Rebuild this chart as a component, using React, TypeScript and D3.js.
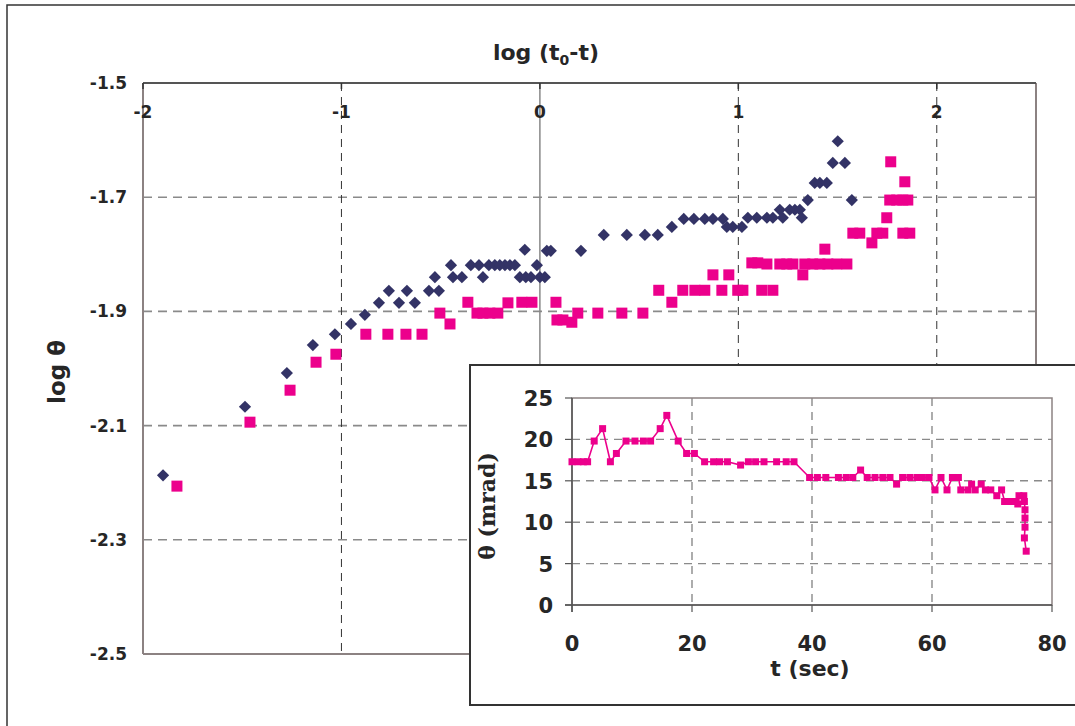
import React from "react";
import * as d3 from "d3";

// Main chart: log(t0 - t) vs log(theta)
const blueX = [-1.899, -1.486, -1.275, -1.144, -1.033, -0.952, -0.882, -0.811, -0.761, -0.71, -0.67, -0.63, -0.559, -0.529, -0.509, -0.448, -0.438, -0.393, -0.348, -0.307, -0.287, -0.257, -0.227, -0.202, -0.176, -0.151, -0.126, -0.101, -0.076, -0.071, -0.045, -0.015, 0.0, 0.025, 0.035, 0.055, 0.207, 0.322, 0.438, 0.529, 0.594, 0.665, 0.725, 0.776, 0.831, 0.872, 0.922, 0.942, 0.972, 1.018, 1.048, 1.093, 1.144, 1.174, 1.209, 1.224, 1.259, 1.285, 1.31, 1.32, 1.35, 1.385, 1.411, 1.446, 1.476, 1.501, 1.537, 1.572];
const blueY = [-2.187, -2.067, -2.008, -1.959, -1.94, -1.922, -1.906, -1.885, -1.864, -1.885, -1.864, -1.885, -1.864, -1.84, -1.864, -1.819, -1.84, -1.84, -1.819, -1.819, -1.84, -1.819, -1.819, -1.819, -1.819, -1.819, -1.819, -1.84, -1.792, -1.84, -1.84, -1.819, -1.84, -1.84, -1.794, -1.794, -1.794, -1.766, -1.766, -1.766, -1.766, -1.752, -1.738, -1.738, -1.738, -1.738, -1.738, -1.752, -1.752, -1.752, -1.736, -1.736, -1.736, -1.736, -1.722, -1.736, -1.722, -1.722, -1.722, -1.736, -1.705, -1.675, -1.675, -1.675, -1.64, -1.602, -1.64, -1.705];

const pinkX = [-1.829, -1.461, -1.259, -1.128, -1.028, -0.877, -0.766, -0.675, -0.594, -0.504, -0.453, -0.363, -0.317, -0.287, -0.252, -0.212, -0.161, -0.091, -0.04, 0.081, 0.086, 0.116, 0.161, 0.191, 0.292, 0.413, 0.519, 0.599, 0.665, 0.72, 0.781, 0.831, 0.872, 0.917, 0.952, 0.997, 1.023, 1.068, 1.098, 1.118, 1.144, 1.174, 1.209, 1.244, 1.275, 1.325, 1.335, 1.375, 1.411, 1.436, 1.451, 1.496, 1.547, 1.577, 1.612, 1.673, 1.698, 1.728, 1.748, 1.768, 1.763, 1.798, 1.829, 1.839, 1.854, 1.829, 1.864];
const pinkY = [-2.206, -2.094, -2.038, -1.989, -1.975, -1.94, -1.94, -1.94, -1.94, -1.903, -1.922, -1.884, -1.903, -1.903, -1.903, -1.903, -1.885, -1.884, -1.884, -1.884, -1.915, -1.915, -1.919, -1.903, -1.903, -1.903, -1.903, -1.863, -1.884, -1.863, -1.863, -1.863, -1.836, -1.863, -1.836, -1.863, -1.863, -1.815, -1.815, -1.863, -1.817, -1.863, -1.817, -1.817, -1.817, -1.836, -1.817, -1.817, -1.817, -1.791, -1.817, -1.817, -1.817, -1.763, -1.763, -1.78, -1.763, -1.763, -1.736, -1.638, -1.705, -1.705, -1.705, -1.673, -1.705, -1.763, -1.763];

const mainXTicks = [-2, -1, 0, 1, 2];
const mainYTicks = [-1.5, -1.7, -1.9, -2.1, -2.3, -2.5];

// Inset: t (sec) vs theta (mrad)
const insetT = [0, 1.0, 1.9, 2.6, 3.7, 5.1, 6.4, 7.4, 9.0, 10.5, 11.9, 13.1, 14.7, 15.8, 17.7, 19.1, 20.4, 22.1, 23.6, 24.6, 25.9, 28.1, 29.4, 30.6, 32.0, 34.1, 35.7, 37.0, 39.6, 40.9, 42.3, 44.4, 45.7, 46.8, 48.1, 49.2, 50.5, 51.8, 53.0, 54.1, 55.1, 56.3, 57.5, 58.4, 59.5, 60.5, 61.5, 62.5, 63.4, 64.4, 64.8, 66.0, 66.6, 67.2, 68.2, 68.9, 69.8, 70.8, 71.6, 72.1, 73.0, 74.0, 74.3, 74.5, 75.3, 75.4, 75.5, 75.5, 75.5, 75.4, 75.7];
const insetTheta = [17.3, 17.3, 17.3, 17.3, 19.8, 21.3, 17.3, 18.3, 19.8, 19.8, 19.8, 19.8, 21.3, 22.9, 19.8, 18.3, 18.3, 17.3, 17.3, 17.3, 17.3, 16.9, 17.3, 17.3, 17.3, 17.3, 17.3, 17.3, 15.4, 15.4, 15.4, 15.4, 15.4, 15.4, 16.3, 15.4, 15.4, 15.4, 15.4, 14.6, 15.4, 15.4, 15.4, 15.4, 15.4, 13.9, 15.4, 13.9, 15.4, 15.4, 13.9, 13.9, 14.6, 13.9, 14.6, 13.9, 13.9, 13.2, 13.9, 12.5, 12.5, 12.5, 12.2, 13.2, 13.2, 12.5, 11.5, 10.5, 9.4, 8.1, 6.5];
const insetXTicks = [0, 20, 40, 60, 80];
const insetYTicks = [0, 5, 10, 15, 20, 25];

const BLUE = "#333366";
const PINK = "#EC008C";
const FONT = "'DejaVu Sans', 'Liberation Sans', Arial, sans-serif";
const SERIF = "'DejaVu Serif', 'Liberation Serif', serif";
const TXT = "#262626";

export default function App() {
  const x = d3.scaleLinear().domain([-2, 2.5]).range([143, 1036]);
  const y = d3.scaleLinear().domain([-2.5, -1.5]).range([654, 83]);

  const tx = d3.scaleLinear().domain([0, 80]).range([572, 1052]);
  const ty = d3.scaleLinear().domain([0, 25]).range([605, 398]);

  const line = d3
    .line<number>()
    .x((_, i) => tx(insetT[i]))
    .y((d) => ty(d));

  const diamond = d3.symbol().type(d3.symbolDiamond2).size(95)() as string;

  return (
    <svg
      width={1075}
      height={726}
      style={{ position: "absolute", left: 0, top: 0, background: "#fff" }}
      fontFamily={FONT}
    >
      <rect x={0} y={0} width={1075} height={726} fill="#fff" />
      {/* outer frame */}
      <rect x={7} y={5} width={1080} height={740} fill="none" stroke="#333" strokeWidth={1.5} />

      {/* main plot gridlines */}
      {mainYTicks.slice(1, -1).map((v) => (
        <line key={"hg" + v} x1={x(-2)} x2={x(2.5)} y1={y(v)} y2={y(v)} stroke="#8a8a8a" strokeWidth={1.6} strokeDasharray="9,6" />
      ))}
      {mainXTicks.filter((v) => v !== -2 && v !== 0).map((v) => (
        <line key={"vg" + v} x1={x(v)} x2={x(v)} y1={y(-1.5)} y2={y(-2.5)} stroke="#333" strokeWidth={1} strokeDasharray="8,6" />
      ))}
      <line x1={x(0)} x2={x(0)} y1={y(-1.5)} y2={y(-2.5)} stroke="#888" strokeWidth={1.5} />

      {/* main plot border */}
      <line x1={x(-2)} x2={x(-2)} y1={y(-1.5)} y2={y(-2.5)} stroke="#8c8282" strokeWidth={2} />
      <line x1={x(2.5)} x2={x(2.5)} y1={y(-1.5)} y2={y(-2.5)} stroke="#8c8282" strokeWidth={2} />
      <line x1={x(-2)} x2={x(2.5)} y1={y(-2.5)} y2={y(-2.5)} stroke="#8c8282" strokeWidth={2} />
      <line x1={x(-2)} x2={x(2.5)} y1={y(-1.5)} y2={y(-1.5)} stroke="#555" strokeWidth={2} />
      {mainXTicks.map((v) => (
        <line key={"xt" + v} x1={x(v)} x2={x(v)} y1={y(-1.5)} y2={y(-1.5) + 6} stroke="#333" strokeWidth={1.5} />
      ))}

      {/* main tick labels */}
      {mainXTicks.map((v) => (
        <text key={"xl" + v} x={x(v)} y={y(-1.5) + 35} textAnchor="middle" fontSize={17} fontWeight="bold" fill={TXT}>
          {v}
        </text>
      ))}
      {mainYTicks.map((v) => (
        <text key={"yl" + v} x={127} y={y(v) + 6} textAnchor="end" fontSize={17} fontWeight="bold" fill={TXT}>
          {v.toFixed(1)}
        </text>
      ))}

      {/* main titles */}
      <text x={546} y={60} textAnchor="middle" fontSize={22} fontWeight="bold" fill={TXT}>
        log (t
        <tspan fontSize={14} dy={5}>0</tspan>
        <tspan dy={-5}>-t)</tspan>
      </text>
      <text transform="translate(65,372) rotate(-90)" textAnchor="middle" fontSize={23} fontWeight="bold" fill={TXT}>
        log θ
      </text>

      {/* main data */}
      {blueX.map((v, i) => (
        <path key={"b" + i} d={diamond} transform={`translate(${x(v)},${y(blueY[i])})`} fill={BLUE} />
      ))}
      {pinkX.map((v, i) => (
        <rect key={"p" + i} x={x(v) - 5.5} y={y(pinkY[i]) - 5.5} width={11} height={11} fill={PINK} />
      ))}

      {/* inset */}
      <rect x={470} y={365} width={640} height={340} fill="#fff" stroke="#333" strokeWidth={2} />
      {insetYTicks.slice(1, -1).map((v) => (
        <line key={"ihg" + v} x1={tx(0)} x2={tx(80)} y1={ty(v)} y2={ty(v)} stroke="#8a8a8a" strokeWidth={1.4} strokeDasharray="8,6" />
      ))}
      {insetXTicks.slice(1, -1).map((v) => (
        <line key={"ivg" + v} x1={tx(v)} x2={tx(v)} y1={ty(25)} y2={ty(0)} stroke="#8a8a8a" strokeWidth={1.4} strokeDasharray="8,6" />
      ))}
      <rect x={tx(0)} y={ty(25)} width={tx(80) - tx(0)} height={ty(0) - ty(25)} fill="none" stroke="#8c8282" strokeWidth={1.5} />
      <line x1={tx(0)} x2={tx(0)} y1={ty(25)} y2={ty(0) + 7} stroke="#555" strokeWidth={1.5} />
      <line x1={tx(0) - 7} x2={tx(80)} y1={ty(0)} y2={ty(0)} stroke="#555" strokeWidth={1.5} />
      {insetYTicks.map((v) => (
        <line key={"iyt" + v} x1={tx(0) - 7} x2={tx(0)} y1={ty(v)} y2={ty(v)} stroke="#555" strokeWidth={1.2} />
      ))}
      {insetXTicks.map((v) => (
        <line key={"ixt" + v} x1={tx(v)} x2={tx(v)} y1={ty(0)} y2={ty(0) + 7} stroke="#555" strokeWidth={1.2} />
      ))}
      {insetYTicks.map((v) => (
        <text key={"iyl" + v} x={553} y={ty(v) + 8} textAnchor="end" fontSize={21} fontWeight="bold" fill={TXT}>
          {v}
        </text>
      ))}
      {insetXTicks.map((v) => (
        <text key={"ixl" + v} x={tx(v)} y={651} textAnchor="middle" fontSize={21} fontWeight="bold" fill={TXT}>
          {v}
        </text>
      ))}
      <text x={810} y={676} textAnchor="middle" fontSize={22} fontWeight="bold" fill={TXT}>
        t (sec)
      </text>
      <text transform="translate(495,506) rotate(-90)" textAnchor="middle" fontSize={22} fontWeight="bold" fill={TXT} fontFamily={SERIF}>
        θ (mrad)
      </text>
      <path d={line(insetTheta) as string} fill="none" stroke={PINK} strokeWidth={1.6} />
      {insetTheta.map((v, i) => (
        <rect key={"ip" + i} x={tx(insetT[i]) - 3.5} y={ty(v) - 3.5} width={7} height={7} fill={PINK} />
      ))}
    </svg>
  );
}
